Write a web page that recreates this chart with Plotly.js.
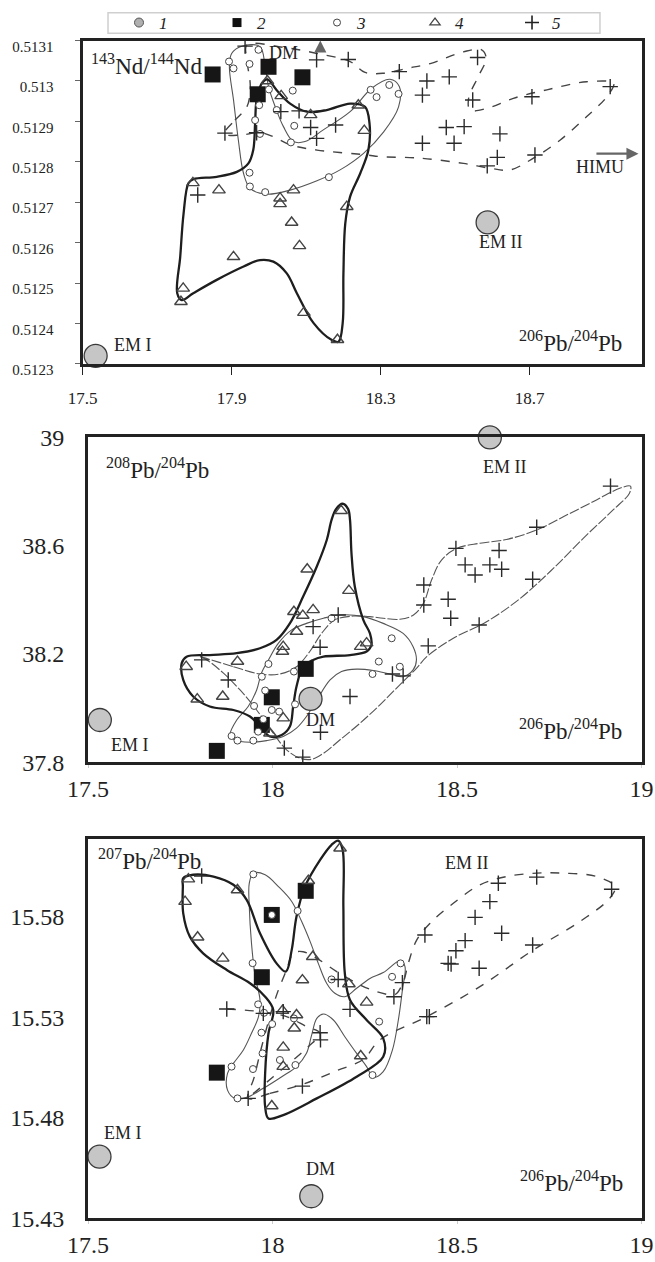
<!DOCTYPE html>
<html><head><meta charset="utf-8">
<script src="https://cdn.plot.ly/plotly-3.0.1.min.js"></script>
<style>body{margin:0;background:#fff}#chart{width:655px;height:1262px}</style>
</head><body><div id="chart"></div>
<script>
// ================= DATA =================
// Legend categories
const legendNames = ['1', '2', '3', '4', '5'];

// ---------- Panel 1: 143Nd/144Nd vs 206Pb/204Pb ----------
const p1Ticks = [0.5123, 0.5124, 0.5125, 0.5126, 0.5127, 0.5128, 0.5129, 0.5130, 0.5131];
const p1TickText = ['0.5123', '0.5124', '0.5125', '0.5126', '0.5127', '0.5128', '0.5129', '0.513', '0.5131'];
const p1XTicks = [17.5, 17.9, 18.3, 18.7];
const p1Reservoirs = [[17.535, 0.51232], [18.587, 0.51265]];
const p1Squares = [[17.849, 0.513016], [17.999, 0.513035], [18.090, 0.513009], [17.970, 0.512967]];
const p1Circles = [[17.893,0.513048],[17.905,0.513031],[17.948,0.513042],[17.972,0.513077],[18.0,0.512979],[18.064,0.512976],[17.974,0.51294],[17.963,0.512903],[18.021,0.512928],[18.068,0.512889],[17.976,0.512869],[18.059,0.512848],[18.273,0.512978],[18.289,0.51296],[18.323,0.51299],[18.348,0.512968],[17.948,0.512773],[17.949,0.512739],[17.99,0.512725],[18.161,0.512762]];
const p1Triangles = [[17.996,0.513],[18.033,0.512963],[18.112,0.512916],[18.24,0.51294],[18.256,0.512877],[17.796,0.512748],[17.866,0.51273],[18.066,0.51273],[18.03,0.51271],[18.03,0.512696],[18.209,0.512689],[18.061,0.51265],[18.082,0.512592],[17.905,0.512565],[17.77,0.512487],[17.764,0.512454],[18.094,0.512427],[18.184,0.51236]];
const p1Plus = [[17.936,0.513086],[18.128,0.513052],[18.213,0.513053],[18.35,0.513023],[18.032,0.512924],[18.081,0.512926],[18.112,0.512885],[18.179,0.512891],[18.128,0.512858],[17.882,0.512871],[17.967,0.512872],[17.809,0.512718],[18.56,0.513058],[18.424,0.513],[18.484,0.51301],[18.412,0.512965],[18.547,0.512953],[18.706,0.512961],[18.916,0.512986],[18.476,0.512885],[18.524,0.512887],[18.62,0.512869],[18.412,0.512846],[18.497,0.512846],[18.613,0.512811],[18.586,0.51279],[18.714,0.512817]];
const p1ThickField = [[17.996,0.513004],[18.021,0.512977],[18.057,0.512944],[18.102,0.512924],[18.155,0.512928],[18.218,0.512944],[18.258,0.512936],[18.270,0.512895],[18.267,0.512829],[18.245,0.512771],[18.218,0.512714],[18.205,0.512648],[18.200,0.512524],[18.198,0.512401],[18.187,0.512355],[18.169,0.512359],[18.12,0.512401],[18.075,0.512475],[18.048,0.512524],[18.012,0.512553],[17.976,0.512557],[17.932,0.512541],[17.86,0.512508],[17.797,0.512475],[17.766,0.512458],[17.754,0.512475],[17.762,0.512565],[17.771,0.512672],[17.784,0.512747],[17.797,0.512757],[17.86,0.512763],[17.914,0.512775],[17.945,0.512796],[17.958,0.512829],[17.963,0.512895],[17.967,0.512953],[17.981,0.512994],[17.996,0.513004]];
const p1ThinField = [[17.976,0.513085],[17.990,0.513035],[17.999,0.512986],[18.017,0.512936],[18.039,0.512887],[18.066,0.51285],[18.097,0.51285],[18.146,0.512879],[18.218,0.512924],[18.276,0.512982],[18.325,0.513004],[18.35,0.512986],[18.348,0.512936],[18.308,0.512874],[18.254,0.512821],[18.191,0.51278],[18.129,0.512753],[18.057,0.51273],[17.994,0.51272],[17.95,0.512734],[17.932,0.512771],[17.918,0.512854],[17.905,0.512953],[17.894,0.513035],[17.9,0.513068],[17.927,0.513086],[17.976,0.513085]];
const p1DashField = [[17.880,0.512869],[17.909,0.512903],[17.941,0.512936],[17.95,0.512986],[17.941,0.513052],[17.941,0.513089],[18.039,0.513083],[18.129,0.513068],[18.218,0.513048],[18.258,0.513021],[18.308,0.513019],[18.37,0.513031],[18.433,0.513043],[18.522,0.513072],[18.571,0.513077],[18.583,0.513056],[18.562,0.513011],[18.536,0.512957],[18.54,0.512928],[18.585,0.512932],[18.656,0.512957],[18.746,0.512978],[18.853,0.512998],[18.925,0.512994],[18.907,0.512961],[18.853,0.512912],[18.782,0.512854],[18.71,0.512809],[18.647,0.51278],[18.594,0.512784],[18.522,0.512796],[18.406,0.512809],[18.298,0.512813],[18.263,0.512817],[18.129,0.512829],[18.057,0.512842],[18.012,0.512862],[17.976,0.512872],[17.923,0.512866],[17.880,0.512869]];
const p1Labels = [['DM', 18.039, 0.513068], ['EM II', 18.623, 0.512602], ['EM I', 17.636, 0.512347], ['HIMU', 18.889, 0.512788]];
const p1HimuArrow = [[18.875, 0.51282], [18.992, 0.51282]];
const p1DmArrow = [[18.138, 0.513070], [18.138, 0.5131]];

// ---------- Panel 2: 208Pb/204Pb vs 206Pb/204Pb ----------
const p2YTicks = [37.8, 38.2, 38.6, 39];
const p2XTicks = [17.5, 18, 18.5, 19];
const p2Reservoirs = [[17.532, 37.956], [18.589, 39.0], [18.103, 38.034]];
const p2Squares = [[18.09, 38.145], [17.998, 38.04], [17.971, 37.938], [17.849, 37.842]];
const p2Circles = [[17.989,38.163],[17.971,38.116],[18.058,38.135],[17.98,38.065],[17.95,38.008],[17.998,37.993],[18.018,37.987],[18.061,38.014],[17.975,37.959],[17.961,37.913],[17.889,37.897],[17.905,37.88],[17.948,37.88],[18.16,38.332],[18.323,38.258],[18.288,38.172],[18.345,38.153],[18.271,38.126]];
const p2Triangles = [[18.186,38.729],[18.094,38.513],[18.207,38.434],[18.058,38.356],[18.082,38.342],[18.11,38.363],[18.065,38.283],[18.029,38.227],[18.027,38.209],[18.239,38.227],[18.255,38.24],[17.905,38.172],[17.766,38.153],[17.796,38.033],[17.865,38.043],[18.029,37.963],[17.993,37.907]];
const p2Plus = [[17.808,38.178],[17.88,38.104],[18.11,38.301],[18.178,38.344],[18.129,38.225],[18.21,38.043],[18.13,37.911],[18.032,37.852],[18.082,37.819],[18.325,38.126],[18.354,38.119],[18.422,38.23],[18.41,38.455],[18.41,38.381],[18.476,38.402],[18.483,38.332],[18.497,38.59],[18.522,38.529],[18.549,38.492],[18.589,38.529],[18.614,38.582],[18.621,38.513],[18.56,38.307],[18.705,38.476],[18.716,38.668],[18.916,38.82]];
const p2ThickField = [[17.754,38.166],[17.767,38.19],[17.83,38.196],[17.903,38.203],[17.966,38.221],[18.011,38.252],[18.047,38.313],[18.083,38.412],[18.12,38.523],[18.147,38.621],[18.16,38.695],[18.172,38.735],[18.19,38.755],[18.205,38.735],[18.21,38.695],[18.214,38.572],[18.223,38.449],[18.246,38.326],[18.264,38.276],[18.268,38.233],[18.255,38.209],[18.21,38.196],[18.138,38.19],[18.11,38.178],[18.083,38.153],[18.065,38.08],[18.056,38.006],[18.047,37.932],[18.025,37.901],[17.993,37.895],[17.966,37.932],[17.939,37.969],[17.894,37.993],[17.83,38.006],[17.785,38.043],[17.758,38.104],[17.754,38.166]];
const p2ThinField = [[17.885,37.901],[17.903,37.956],[17.934,38.006],[17.957,38.067],[17.97,38.129],[17.989,38.178],[18.016,38.24],[18.052,38.289],[18.092,38.313],[18.138,38.332],[18.183,38.344],[18.246,38.338],[18.3,38.313],[18.354,38.276],[18.381,38.227],[18.39,38.178],[18.381,38.141],[18.354,38.116],[18.318,38.126],[18.273,38.139],[18.228,38.144],[18.187,38.135],[18.156,38.104],[18.12,38.03],[18.092,37.969],[18.065,37.926],[18.029,37.895],[17.984,37.88],[17.939,37.874],[17.898,37.882],[17.885,37.901]];
const p2DashField = [[17.803,38.19],[17.894,38.153],[17.966,38.126],[18.02,38.126],[18.065,38.153],[18.101,38.209],[18.133,38.276],[18.169,38.326],[18.219,38.34],[18.264,38.338],[18.3,38.332],[18.345,38.328],[18.382,38.344],[18.409,38.387],[18.431,38.473],[18.458,38.547],[18.499,38.59],[18.562,38.609],[18.634,38.623],[18.716,38.658],[18.797,38.713],[18.878,38.769],[18.941,38.812],[18.97,38.82],[18.967,38.793],[18.923,38.732],[18.851,38.639],[18.761,38.516],[18.671,38.405],[18.58,38.319],[18.49,38.258],[18.418,38.19],[18.39,38.147],[18.345,38.086],[18.291,38.012],[18.237,37.944],[18.183,37.883],[18.138,37.833],[18.106,37.811],[18.074,37.815],[18.038,37.846],[18.002,37.907],[17.957,37.993],[17.912,38.067],[17.867,38.129],[17.822,38.178],[17.803,38.19]];
const p2Labels = [['EM I', 17.615, 37.864], ['EM II', 18.631, 38.889], ['DM', 18.129, 37.956]];

// ---------- Panel 3: 207Pb/204Pb vs 206Pb/204Pb ----------
const p3YTicks = [15.43, 15.48, 15.53, 15.58];
const p3XTicks = [17.5, 18, 18.5, 19];
const p3Reservoirs = [[17.531, 15.4607], [18.589, 15.6192], [18.105, 15.441]];
const p3Squares = [[18.09, 15.593], [17.998, 15.581], [17.971, 15.55], [17.849, 15.5025]];
const p3Circles = [[17.948,15.6012],[18.068,15.583],[17.998,15.581],[17.946,15.557],[18.16,15.5489],[18.324,15.5502],[18.347,15.5569],[17.961,15.5365],[17.977,15.5323],[17.999,15.5267],[17.97,15.5224],[18.058,15.5295],[17.973,15.5121],[18.02,15.5088],[18.062,15.5063],[17.947,15.5043],[17.889,15.5055],[17.905,15.4897],[18.289,15.5279],[18.271,15.5013]];
const p3Triangles = [[18.183,15.6142],[18.097,15.598],[17.772,15.5988],[17.905,15.5934],[17.763,15.5876],[17.797,15.5699],[17.865,15.5594],[18.081,15.5486],[18.109,15.5602],[18.207,15.5466],[18.255,15.5375],[18.027,15.5334],[18.065,15.5312],[18.059,15.5246],[18.029,15.5151],[18.029,15.5055],[18.239,15.5108],[17.998,15.4859]];
const p3Plus = [[17.808,15.6004],[17.876,15.5342],[17.975,15.532],[18.029,15.5329],[18.178,15.5489],[18.21,15.534],[18.129,15.5224],[18.13,15.5188],[18.329,15.5403],[18.352,15.5473],[18.413,15.571],[18.081,15.4958],[17.934,15.4897],[18.418,15.5304],[18.425,15.5304],[18.612,15.5968],[18.716,15.5998],[18.919,15.5938],[18.589,15.5876],[18.549,15.5798],[18.621,15.5719],[18.522,15.5682],[18.497,15.5632],[18.476,15.5569],[18.484,15.5566],[18.56,15.5545],[18.705,15.566]];
const p3ThickField = [[17.758,15.5993],[17.785,15.601],[17.84,15.6001],[17.894,15.596],[17.93,15.5885],[17.966,15.5719],[18.011,15.5569],[18.036,15.5528],[18.052,15.5636],[18.065,15.5802],[18.088,15.5951],[18.129,15.6084],[18.16,15.6159],[18.178,15.618],[18.19,15.6134],[18.192,15.5851],[18.196,15.5519],[18.21,15.5387],[18.255,15.5287],[18.3,15.5196],[18.3,15.5104],[18.228,15.5005],[18.12,15.4897],[18.029,15.4814],[17.989,15.4797],[17.98,15.4856],[17.98,15.5022],[17.989,15.522],[18.002,15.5337],[17.98,15.5403],[17.939,15.547],[17.876,15.5536],[17.812,15.5619],[17.776,15.5702],[17.758,15.5818],[17.757,15.5951],[17.758,15.5993]];
const p3ThinField = [[17.948,15.6018],[17.98,15.601],[18.016,15.5951],[18.052,15.5877],[18.079,15.5777],[18.102,15.5677],[18.124,15.5569],[18.147,15.5469],[18.169,15.542],[18.196,15.5403],[18.228,15.5445],[18.264,15.5494],[18.3,15.5523],[18.347,15.5583],[18.359,15.5553],[18.352,15.5437],[18.341,15.5287],[18.325,15.5138],[18.3,15.503],[18.273,15.5002],[18.255,15.5055],[18.228,15.5121],[18.196,15.5204],[18.165,15.5287],[18.138,15.5317],[18.12,15.5295],[18.106,15.5212],[18.092,15.5121],[18.065,15.5055],[18.025,15.5005],[17.975,15.4947],[17.93,15.4902],[17.898,15.4897],[17.878,15.4938],[17.878,15.5021],[17.894,15.5071],[17.921,15.5138],[17.943,15.5221],[17.962,15.5304],[17.966,15.5387],[17.953,15.5503],[17.943,15.5669],[17.937,15.5852],[17.937,15.5968],[17.948,15.6018]];
const p3DashField = [[17.934,15.4897],[17.993,15.4922],[18.083,15.4968],[18.174,15.5035],[18.246,15.5091],[18.291,15.5188],[18.418,15.5304],[18.562,15.5453],[18.707,15.5636],[18.833,15.5777],[18.914,15.5893],[18.928,15.5951],[18.878,15.6001],[18.788,15.6018],[18.716,15.6018],[18.634,15.6001],[18.562,15.596],[18.49,15.5868],[18.427,15.5769],[18.391,15.5686],[18.368,15.5569],[18.355,15.5478],[18.337,15.542],[18.327,15.5412],[18.282,15.5428],[18.228,15.547],[18.174,15.5528],[18.12,15.5594],[18.083,15.5627],[18.056,15.5619],[18.038,15.5536],[18.016,15.5437],[17.998,15.5337],[17.97,15.515],[17.95,15.50],[17.934,15.4897]];
const p3DashLine = [[17.876,15.5342],[17.966,15.5329],[18.038,15.5304],[18.092,15.5254],[18.129,15.5221],[18.097,15.5154],[18.056,15.5088],[18.002,15.5005],[17.948,15.4922],[17.93,15.4902]];
const p3Labels = [['EM I', 17.594, 15.4723], ['EM II', 18.527, 15.607], ['DM', 18.13, 15.4544]];

// ================= STYLES =================
const FONT = 'Liberation Serif, Times New Roman, serif';
const MK = {
  res: {symbol: 'circle', size: 23, color: '#c6c6c6', line: {color: '#3a3a3a', width: 1.3}},
  sq: {symbol: 'square', size: 16, color: '#161616', line: {color: '#161616', width: 0}},
  ci: {symbol: 'circle', size: 7, color: '#ffffff', line: {color: '#444', width: 1}},
  tr: {symbol: 'triangle-up-open', size: 11, color: '#444', line: {color: '#444', width: 1.4}},
  pl: {symbol: 'cross-thin-open', size: 11, color: '#2a2a2a', line: {color: '#2a2a2a', width: 1.4}}
};
const LINE = {
  thick: {color: '#1e1e1e', width: 2.3, shape: 'spline', smoothing: 1},
  thin: {color: '#555', width: 1.1, shape: 'spline', smoothing: 1},
  dash: {color: '#444', width: 1.4, dash: 'dash', shape: 'spline', smoothing: 1},
  longdash: {color: '#555', width: 1.1, dash: '10px,2px', shape: 'spline', smoothing: 1}
};

const xs = a => a.map(p => p[0]);
const ys = a => a.map(p => p[1]);
const traces = [];
function line(arr, ax, style) {
  traces.push({x: xs(arr), y: ys(arr), xaxis: 'x' + ax, yaxis: 'y' + ax, mode: 'lines',
    line: style, showlegend: false, hoverinfo: 'skip', cliponaxis: false});
}
function pts(arr, ax, mk) {
  traces.push({x: xs(arr), y: ys(arr), xaxis: 'x' + ax, yaxis: 'y' + ax, mode: 'markers',
    marker: mk, showlegend: false, cliponaxis: false});
}
function panel(ax, thick, thin, dash, dashStyle, res, sq, ci, tr, pl, extraDash) {
  line(thin, ax, LINE.thin);
  line(dash, ax, dashStyle);
  if (extraDash) line(extraDash, ax, dashStyle);
  line(thick, ax, LINE.thick);
  pts(res, ax, MK.res);
  pts(sq, ax, MK.sq);
  pts(ci, ax, MK.ci);
  pts(tr, ax, MK.tr);
  pts(pl, ax, MK.pl);
}
panel('', p1ThickField, p1ThinField, p1DashField, LINE.dash, p1Reservoirs, p1Squares, p1Circles, p1Triangles, p1Plus);
panel('2', p2ThickField, p2ThinField, p2DashField, LINE.longdash, p2Reservoirs, p2Squares, p2Circles, p2Triangles, p2Plus);
panel('3', p3ThickField, p3ThinField, p3DashField, LINE.dash, p3Reservoirs, p3Squares, p3Circles, p3Triangles, p3Plus, p3DashLine);

// legend entries (one small legend per item, all inside one framed box)
const legMarkers = [
  {symbol: 'circle', size: 9, color: '#b0b0b0', line: {color: '#555', width: 1}},
  {symbol: 'square', size: 9, color: '#111'},
  {symbol: 'circle', size: 7, color: '#fff', line: {color: '#444', width: 1}},
  {symbol: 'triangle-up-open', size: 9, color: '#444', line: {color: '#444', width: 1.2}},
  {symbol: 'cross-thin-open', size: 10, color: '#222', line: {color: '#222', width: 1.6}}
];
const legIds = ['legend', 'legend2', 'legend3', 'legend4', 'legend5'];
const legX = [0.1817, 0.3313, 0.4840, 0.6336, 0.7817];
legendNames.forEach((n, i) => traces.push({x: [null], y: [null], mode: 'markers', name: '<i>' + n + '</i>',
  marker: legMarkers[i], showlegend: true, legend: legIds[i], xaxis: 'x', yaxis: 'y'}));

// annotations
const ann = [];
function labels(arr, ax) {
  arr.forEach(l => ann.push({text: l[0], x: l[1], y: l[2], xref: 'x' + ax, yref: 'y' + ax,
    showarrow: false, font: {family: FONT, size: 18, color: '#222'}}));
}
labels(p1Labels, ''); labels(p2Labels, '2'); labels(p3Labels, '3');
function axisLabel(text, ax, x, y, anchor) {
  ann.push({text: text, x: x, y: y, xref: 'x' + ax + ' domain', yref: 'y' + ax + ' domain', xanchor: anchor,
    yanchor: 'middle', showarrow: false, font: {family: FONT, size: 23, color: '#222'}});
}
axisLabel('<sup>143</sup>Nd/<sup>144</sup>Nd', '', 0.012, 0.925, 'left');
axisLabel('<sup>206</sup>Pb/<sup>204</sup>Pb', '', 0.968, 0.07, 'right');
axisLabel('<sup>208</sup>Pb/<sup>204</sup>Pb', '2', 0.028, 0.905, 'left');
axisLabel('<sup>206</sup>Pb/<sup>204</sup>Pb', '2', 0.968, 0.1, 'right');
axisLabel('<sup>207</sup>Pb/<sup>204</sup>Pb', '3', 0.015, 0.945, 'left');
axisLabel('<sup>206</sup>Pb/<sup>204</sup>Pb', '3', 0.97, 0.097, 'right');
function arrow(a, ax) {
  ann.push({x: a[1][0], y: a[1][1], ax: a[0][0], ay: a[0][1], xref: 'x' + ax, yref: 'y' + ax,
    axref: 'x' + ax, ayref: 'y' + ax, showarrow: true, arrowhead: 2, arrowsize: 1.1, arrowwidth: 2.2,
    arrowcolor: '#666', text: ''});
}
arrow(p1HimuArrow, ''); arrow(p1DmArrow, '');

const tickFontSmall = {family: FONT, size: 17, color: '#222'};
const tickFontBig = {family: FONT, size: 24, color: '#222'};
const boxAxis = {showgrid: false, zeroline: false, showline: true, mirror: true, linecolor: '#222', linewidth: 3};

const layout = {
  width: 655, height: 1262, margin: {l: 0, r: 0, t: 0, b: 0},
  paper_bgcolor: '#fff', plot_bgcolor: '#fff',
  showlegend: true,
  shapes: [{type: 'rect', xref: 'paper', yref: 'paper', x0: 0.1649, x1: 0.916, y0: 0.97361, y1: 0.98994,
    line: {color: '#cfcfcf', width: 1.5}, fillcolor: 'rgba(0,0,0,0)'}],
  xaxis: Object.assign({}, boxAxis, {domain: [0.1261, 0.9794], range: [17.5, 19.0], anchor: 'y',
    tickvals: p1XTicks, ticks: 'outside', ticklen: 8, tickwidth: 1.5, tickcolor: '#222',
    tickfont: tickFontSmall, ticklabelstandoff: 9}),
  yaxis: Object.assign({}, boxAxis, {domain: [0.7116, 0.9679], range: [0.5123, 0.5131], anchor: 'x',
    tickvals: p1Ticks, ticktext: p1TickText, ticks: 'outside', ticklen: 5, tickwidth: 1, tickcolor: '#666',
    tickfont: {family: FONT, size: 15, color: '#222'}, ticklabelstandoff: 18, ticklabelshift: 6}),
  xaxis2: Object.assign({}, boxAxis, {domain: [0.1344, 0.9794], range: [17.5, 19], anchor: 'y2',
    tickvals: p2XTicks, ticks: 'outside', ticklen: 3, tickcolor: '#ccc', tickfont: tickFontBig, ticklabelstandoff: 0}),
  yaxis2: Object.assign({}, boxAxis, {domain: [0.3960, 0.6534], range: [37.8, 39], anchor: 'x2',
    tickvals: p2YTicks, ticks: '', tickfont: tickFontBig, ticklabelstandoff: 16}),
  xaxis3: Object.assign({}, boxAxis, {domain: [0.1344, 0.9794], range: [17.5, 19], anchor: 'y3',
    tickvals: p3XTicks, ticks: 'outside', ticklen: 3, tickcolor: '#ccc', tickfont: tickFontBig, ticklabelstandoff: 0}),
  yaxis3: Object.assign({}, boxAxis, {domain: [0.0346, 0.3352], range: [15.43, 15.6188], anchor: 'x3',
    tickvals: p3YTicks, ticks: '', tickfont: tickFontBig, ticklabelstandoff: 16}),
  annotations: ann
};
legIds.forEach((id, i) => {
  layout[id] = {x: legX[i], y: 0.98177, xanchor: 'left', yanchor: 'middle', bgcolor: 'rgba(0,0,0,0)',
    borderwidth: 0, font: {family: FONT, size: 17, color: '#222'}, itemwidth: 30};
});
Plotly.newPlot('chart', traces, layout, {staticPlot: true});
</script></body></html>
